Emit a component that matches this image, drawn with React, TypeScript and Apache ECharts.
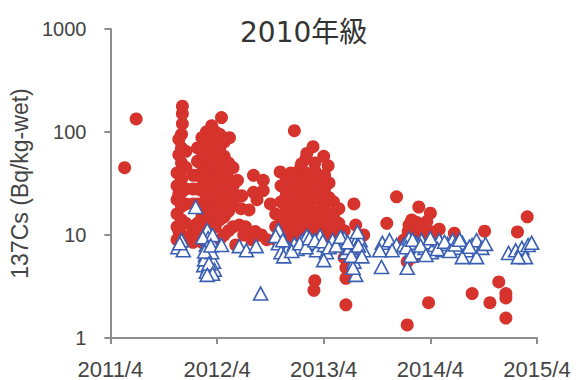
import React, { useEffect, useRef } from "react";
import * as echarts from "echarts";

// x = months since 2011/4, y = 137Cs (Bq/kg-wet)
const xTickLabels = ["2011/4", "2012/4", "2013/4", "2014/4", "2015/4"];
const yTickValues = [1, 10, 100, 1000];

const redPoints: [number, number][] = [
  [1.6, 45], [2.9, 134],
  [7.5, 9], [7.5, 12], [7.5, 16], [7.5, 22], [7.5, 30], [7.5, 40],
  [8.0, 8], [8.0, 10], [8.0, 14], [8.0, 19], [8.0, 26], [8.0, 35], [8.0, 50], [8.0, 70], [8.0, 95], [8.1, 120], [8.1, 150], [8.1, 178],
  [7.7, 11], [7.7, 25], [7.7, 60], [7.7, 85],
  [8.5, 9], [8.5, 13], [8.5, 20], [8.5, 28], [8.5, 45], [8.5, 65],
  [9.3, 8.5], [9.3, 11], [9.3, 20], [9.3, 28], [9.3, 38],
  [9.8, 9], [9.8, 13], [9.8, 20], [9.8, 28], [9.8, 38], [9.8, 52], [9.8, 70],
  [10.3, 8.5], [10.3, 11], [10.3, 15], [10.3, 20], [10.3, 27], [10.3, 36], [10.3, 48], [10.3, 65], [10.3, 88],
  [10.8, 8], [10.8, 12], [10.8, 17], [10.8, 23], [10.8, 32], [10.8, 44], [10.8, 60], [10.8, 80], [10.8, 100],
  [11.3, 9], [11.3, 13], [11.3, 18], [11.3, 25], [11.3, 34], [11.3, 46], [11.3, 62], [11.3, 85], [11.4, 115],
  [11.8, 8.5], [11.8, 12], [11.8, 16], [11.8, 22], [11.8, 30], [11.8, 40], [11.8, 55], [11.8, 75], [11.8, 100],
  [12.3, 9], [12.3, 14], [12.3, 19], [12.3, 27], [12.3, 37], [12.3, 50], [12.3, 70], [12.3, 95], [12.5, 138],
  [12.8, 10], [12.8, 15], [12.8, 21], [12.8, 30], [12.8, 42], [12.8, 58], [12.8, 80],
  [13.3, 11], [13.3, 17], [13.3, 25], [13.3, 35], [13.3, 50], [13.4, 88],
  [13.8, 12], [13.8, 20], [13.8, 30], [13.8, 45],
  [14.3, 34], [14.3, 24],
  [14.5, 12.5], [15.0, 10], [14.8, 24], [15.6, 17.5], [16.1, 38], [17.2, 34], [16.5, 22], [16.7, 10],
  [17.6, 9], [18.0, 20], [15.9, 9], [14.1, 8], [16.3, 10.8], [17.0, 10], [15.2, 12], [14.7, 18],
  [16.1, 26], [17.2, 27],
  [20.7, 103], [22.8, 72], [22.1, 62], [24.0, 58], [23.0, 50], [21.5, 49], [24.5, 47], [19.1, 41],
  [18.6, 9], [18.6, 12], [18.6, 16],
  [19.2, 8.5], [19.2, 11], [19.2, 15], [19.2, 21], [19.2, 30],
  [19.8, 8], [19.8, 10], [19.8, 13], [19.8, 18], [19.8, 25], [19.8, 35],
  [20.3, 9], [20.3, 12], [20.3, 16], [20.3, 22], [20.3, 30], [20.3, 40],
  [20.9, 8], [20.9, 11], [20.9, 14], [20.9, 20], [20.9, 28], [20.9, 38],
  [21.4, 9], [21.4, 12], [21.4, 17], [21.4, 24], [21.4, 33], [21.4, 45],
  [22.0, 8.5], [22.0, 11], [22.0, 15], [22.0, 21], [22.0, 29], [22.0, 40], [22.0, 55],
  [22.5, 9], [22.5, 13], [22.5, 18], [22.5, 25], [22.5, 35],
  [23.0, 8], [23.0, 11], [23.0, 15], [23.0, 22], [23.0, 30], [23.0, 42],
  [23.6, 9], [23.6, 12], [23.6, 17], [23.6, 24], [23.6, 33],
  [24.1, 8], [24.1, 10], [24.1, 14], [24.1, 20], [24.1, 28], [24.1, 38],
  [24.6, 9], [24.6, 12], [24.6, 16], [24.6, 23], [24.6, 32],
  [25.1, 8.5], [25.1, 11], [25.1, 15], [25.1, 21],
  [25.7, 9], [25.7, 13], [25.7, 18],
  [26.3, 8], [26.3, 11],
  [23.0, 3.6], [22.9, 2.9], [26.5, 3.8], [26.5, 4.8], [26.5, 2.1], [26.3, 6.0],
  [27.4, 20], [27.6, 12.5], [28.5, 10], [27.7, 7.6],
  [31.1, 13], [32.2, 23.5], [34.7, 18.7], [36.0, 16.3], [38.7, 10.4], [42.1, 10.9], [45.8, 10.7], [46.9, 15],
  [33.6, 12.5], [34.3, 11.2], [35.2, 11.7], [36.3, 10.7], [33.0, 8.9], [33.4, 5.5], [34.1, 6.1], [35.2, 8],
  [33.9, 14], [34.8, 9.5], [35.6, 13.5],
  [34.0, 10.5], [35.0, 10.2], [36.6, 9.6], [33.5, 10.8], [34.5, 13.2], [37.0, 11.4],
  [35.8, 2.2], [33.4, 1.34], [40.7, 2.7], [42.7, 2.2], [43.7, 3.5], [44.5, 2.7], [44.5, 2.45], [44.5, 1.56],
];

const bluePoints: [number, number][] = [
  [7.6, 7.6], [8.0, 8.9], [8.2, 7.1], [7.8, 8.3], [9.6, 18.7],
  [10.9, 11.2], [11.0, 9.3], [10.8, 8.0], [11.2, 7.1], [10.7, 6.4], [11.2, 6.0], [11.6, 5.5], [10.5, 5.1],
  [11.0, 4.8], [11.7, 4.6], [10.8, 4.4], [11.3, 8.9], [11.5, 10], [10.6, 5.8],
  [10.4, 9.5], [10.9, 7.6], [11.4, 6.8], [10.6, 6.9], [11.1, 5.3], [11.5, 4.2], [10.9, 4.1], [11.3, 7.9],
  [12.5, 8.0], [14.5, 7.8], [15.3, 7.1], [16.4, 7.8], [16.9, 2.7],
  [18.9, 11.2], [18.9, 8.3], [19.2, 6.8], [20.0, 7.5], [20.7, 8.2], [21.6, 8.9], [22.1, 9.8], [22.7, 8.4],
  [23.2, 7.1], [23.6, 9.8], [24.1, 8.0], [24.3, 6.8], [24.0, 5.7], [25.0, 8.9], [26.0, 8.0], [26.3, 9.3],
  [26.5, 6.8], [26.9, 7.5], [27.6, 8.5], [27.4, 5.5], [27.6, 4.1], [28.1, 8.9], [28.5, 7.1], [27.8, 10.7],
  [27.3, 4.8], [19.5, 6.2], [21.0, 7.3],
  [18.6, 9.8], [19.4, 8.9], [20.4, 7.0], [21.3, 8.3], [22.0, 7.6], [22.4, 9.3], [23.0, 8.9], [23.9, 8.7],
  [24.6, 7.6], [25.4, 7.9], [25.9, 9.6], [26.7, 8.5], [27.1, 6.3], [27.9, 7.9], [28.3, 6.2],
  [30.5, 4.9], [30.6, 8.4], [31.4, 8.9], [32.2, 8.0], [31.7, 7.1], [30.3, 7.1],
  [33.0, 8.0], [33.4, 4.8], [33.6, 9.3], [33.9, 7.1], [34.4, 8.4], [34.7, 6.8], [35.0, 8.9], [35.4, 7.5],
  [35.8, 8.5], [36.1, 6.8], [36.5, 8.0], [37.0, 8.9], [37.4, 7.1], [37.95, 8.2], [38.5, 8.9], [39.0, 7.5],
  [39.6, 8.4], [40.1, 7.1], [40.7, 8.0], [41.2, 8.9], [41.8, 7.5], [42.2, 8.2], [41.2, 6.1], [39.6, 6.1],
  [33.3, 7.6], [34.0, 9.0], [34.9, 7.9], [35.5, 6.4], [36.0, 9.3], [36.8, 7.3], [37.6, 8.6], [38.2, 7.0],
  [38.8, 8.1], [39.3, 9.0], [40.4, 7.7], [33.8, 6.3],
  [44.8, 6.7], [45.6, 7.1], [46.3, 7.5], [47.0, 8.0], [47.4, 8.4], [46.7, 6.1], [45.9, 6.1],
];

const titleText = "2010年級";
const yAxisName = "137Cs (Bq/kg-wet)";

export default function App() {
  const ref = useRef<HTMLDivElement>(null);
  useEffect(() => {
    document.body.style.margin = "0";
    if (!ref.current) return;
    const chart = echarts.init(ref.current, null, { renderer: "svg" });
    const axisColor = "#8d8d8d";
    const labelColor = "#444";
    chart.setOption({
      animation: false,
      backgroundColor: "#ffffff",
      title: {
        text: titleText,
        left: 235,
        top: 13,
        textStyle: {
          fontSize: 28,
          fontWeight: "normal",
          color: "#333",
          fontFamily: "'DejaVu Sans', 'Noto Sans CJK JP', sans-serif",
        },
      },
      grid: { left: 97, right: 42, top: 29, bottom: 42 },
      xAxis: {
        type: "value",
        min: 0,
        max: 48,
        interval: 12,
        axisLine: { onZero: false, lineStyle: { color: axisColor, width: 2 } },
        axisTick: { show: true, length: 6, lineStyle: { color: axisColor, width: 2 } },
        splitLine: { show: false },
        axisLabel: {
          margin: 20,
          fontSize: 22,
          color: labelColor,
          fontFamily: "'Liberation Sans', Arial, sans-serif",
          formatter: (v: number) => xTickLabels[Math.round(v / 12)] ?? "",
        },
      },
      yAxis: {
        type: "log",
        logBase: 10,
        min: yTickValues[0],
        max: yTickValues[yTickValues.length - 1],
        name: yAxisName,
        nameLocation: "middle",
        nameGap: 75,
        nameTextStyle: {
          fontSize: 23,
          color: labelColor,
          fontFamily: "'Liberation Sans', Arial, sans-serif",
        },
        axisLine: { show: true, lineStyle: { color: axisColor, width: 2 } },
        axisTick: { show: true, length: 6, lineStyle: { color: axisColor, width: 2 } },
        splitLine: { show: false },
        axisLabel: {
          margin: 24,
          fontSize: 20,
          color: labelColor,
          fontFamily: "'Liberation Sans', Arial, sans-serif",
          formatter: (v: number) => String(Math.round(v)),
        },
      },
      series: [
        {
          type: "scatter",
          data: redPoints,
          symbol: "circle",
          symbolSize: 13,
          itemStyle: { color: "#d5332c", opacity: 1 },
        },
        {
          type: "scatter",
          data: bluePoints,
          symbol: "triangle",
          symbolSize: [14, 13],
          itemStyle: { color: "#ffffff", borderColor: "#3a5fb3", borderWidth: 1.6, opacity: 1 },
        },
      ],
    });
    return () => chart.dispose();
  }, []);
  return <div ref={ref} style={{ width: 579, height: 380 }} />;
}
